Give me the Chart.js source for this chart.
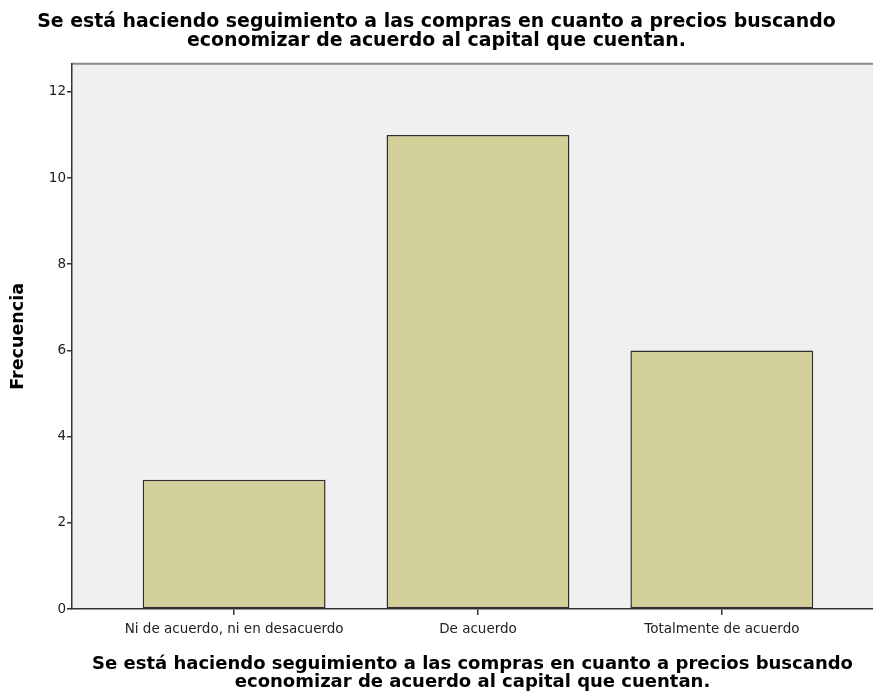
<!DOCTYPE html>
<html>
<head>
<meta charset="utf-8">
<script src="https://cdn.jsdelivr.net/npm/chart.js@4/dist/chart.umd.min.js"></script>
<style>
  html, body { margin: 0; padding: 0; background: #ffffff; }
  #wrap { width: 873px; height: 695px; position: relative; }
</style>
</head>
<body>
<div id="wrap"><canvas id="c" width="873" height="695"></canvas></div>
<script>
const categories = ["Ni de acuerdo, ni en desacuerdo", "De acuerdo", "Totalmente de acuerdo"];
const frecuencia = [3, 11, 6];
const yTicks = [0, 2, 4, 6, 8, 10, 12];
const titleLines = ["Se está haciendo seguimiento a las compras en cuanto a precios buscando", "economizar de acuerdo al capital que cuentan."];
const xTitleLines = ["Se está haciendo seguimiento a las compras en cuanto a precios buscando", "economizar de acuerdo al capital que cuentan."];
const yTitle = "Frecuencia";

const plotDecor = {
  id: 'plotDecor',
  beforeDraw(chart) {
    const {ctx, chartArea: a} = chart;
    ctx.save();
    ctx.fillStyle = '#f0f0f0';
    ctx.fillRect(a.left, a.top, a.right - a.left, a.bottom - a.top);
    ctx.strokeStyle = '#8a8a8a';
    ctx.lineWidth = 2;
    ctx.beginPath();
    ctx.moveTo(a.left, a.top);
    ctx.lineTo(a.right, a.top);
    ctx.stroke();
    ctx.restore();
  }
};

new Chart(document.getElementById('c'), {
  type: 'bar',
  data: {
    datasets: [{
      label: yTitle,
      data: frecuencia.map((v, i) => ({x: i, y: v})),
      backgroundColor: '#d3cf98',
      borderColor: '#2e2e2e',
      borderWidth: 1.5,
      borderSkipped: false,
      categoryPercentage: 1,
      barPercentage: 0.75
    }]
  },
  options: {
    responsive: false,
    animation: false,
    layout: { padding: { left: 0, right: 0, top: 0, bottom: 0 } },
    plugins: {
      legend: { display: false },
      tooltip: { enabled: false },
      title: {
        display: true,
        text: titleLines,
        color: '#000',
        font: { family: '"DejaVu Sans", Verdana, sans-serif', size: 18.9, weight: 'bold', lineHeight: 1.0 },
        padding: { top: 12.5, bottom: 13.5 }
      }
    },
    scales: {
      x: {
        type: 'linear',
        offset: false,
        min: -0.665,
        max: 2.62,
        afterBuildTicks(scale) { scale.ticks = categories.map((c, i) => ({value: i})); },
        afterFit(scale) { scale.height = 86; },
        ticks: {
          callback: (v) => categories[v],
          color: '#222',
          font: { family: '"DejaVu Sans", Verdana, sans-serif', size: 13.5 },
          padding: 6,
          maxRotation: 0,
          autoSkip: false
        },
        grid: { offset: false, drawOnChartArea: false, drawTicks: true, tickLength: 6, color: '#333', lineWidth: 1.5 },
        border: { display: true, color: '#333', width: 1.5 },
        title: {
          display: true,
          text: xTitleLines,
          color: '#000',
          font: { family: '"DejaVu Sans", Verdana, sans-serif', size: 18, weight: 'bold', lineHeight: 1.0 },
          padding: { top: 0, bottom: 4 }
        }
      },
      y: {
        type: 'linear',
        min: 0,
        max: 12.65,
        afterBuildTicks(scale) { scale.ticks = yTicks.map(v => ({value: v})); },
        afterFit(scale) { scale.width = 72; },
        ticks: {
          color: '#222',
          font: { family: '"DejaVu Sans", Verdana, sans-serif', size: 13.5 },
          padding: 1
        },
        grid: { drawOnChartArea: false, drawTicks: true, tickLength: 5, color: '#333', lineWidth: 1.5 },
        border: { display: true, color: '#333', width: 1.5 },
        title: {
          display: true,
          text: yTitle,
          color: '#000',
          font: { family: '"DejaVu Sans", Verdana, sans-serif', size: 17.5, weight: 'bold', lineHeight: 1.0 },
          padding: { top: 10, bottom: 0 }
        }
      }
    }
  },
  plugins: [plotDecor]
});
</script>
</body>
</html>
